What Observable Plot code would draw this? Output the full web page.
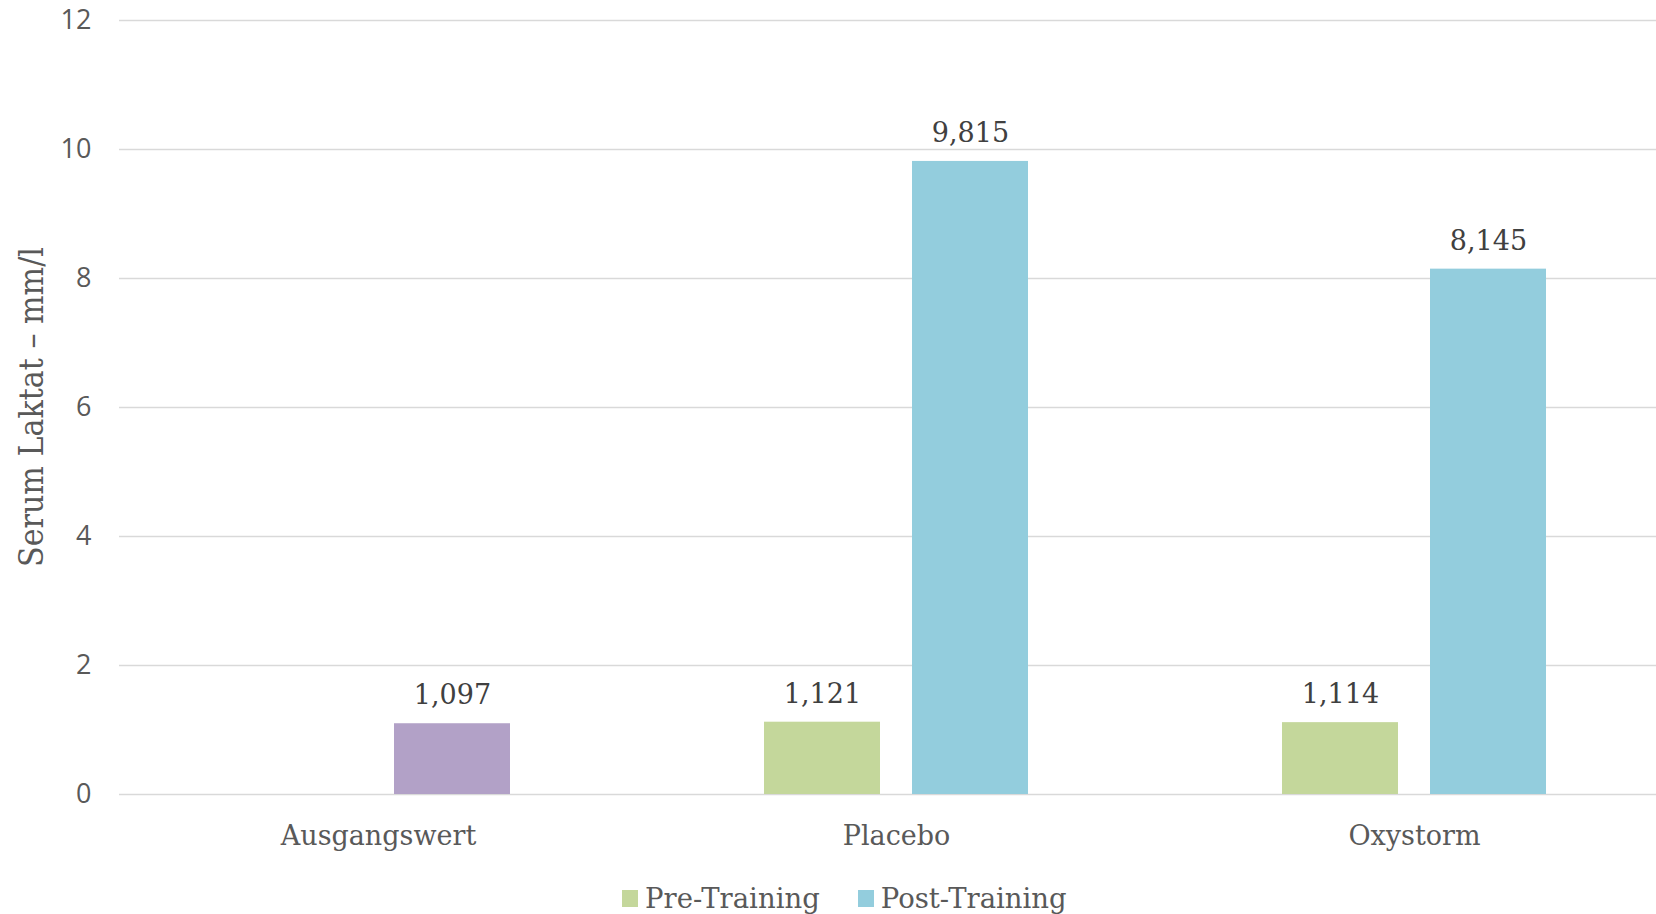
<!DOCTYPE html>
<html>
<head>
<meta charset="utf-8">
<script src="https://cdn.jsdelivr.net/npm/d3@7"></script>
<script src="https://cdn.jsdelivr.net/npm/@observablehq/plot@0.6"></script>
<style>
  html, body { margin: 0; padding: 0; background: #fff; overflow: hidden; }
  #wrap { width: 1656px; height: 914px; overflow: hidden; position: relative; }
  #chart svg { max-width: none !important; display: block; }
  #legend { position: absolute; left: 622px; top: 882px; display: flex; align-items: center;
            font-family: "DejaVu Serif", serif; font-size: 27.5px; color: #595959; white-space: nowrap; }
  .item { display: flex; align-items: center; margin-right: 38px; }
  .sw { width: 16px; height: 17px; margin-right: 7px; }
</style>
</head>
<body>
<div id="wrap"><div id="chart"></div><div id="legend"></div></div>
<script>
const categories = ["Ausgangswert", "Placebo", "Oxystorm"];
const series = ["Pre-Training", "Post-Training"];
const preTraining = [null, 1.121, 1.114];
const postTraining = [1.097, 9.815, 8.145];
const yTicks = [0, 2, 4, 6, 8, 10, 12];
const yLabel = "Serum Laktat – mm/l";

const seriesColors = ["#C4D79B", "#93CDDD"];
const baselineColor = "#B2A1C7";

const rows = [];
categories.forEach((c, i) => {
  if (preTraining[i] != null) rows.push({category: c, series: series[0], value: preTraining[i]});
  if (postTraining[i] != null) rows.push({category: c, series: series[1], value: postTraining[i]});
});
rows.forEach(r => {
  r.fill = r.category === categories[0] ? baselineColor : seriesColors[series.indexOf(r.series)];
});
const fmt = v => v.toFixed(3).replace(".", ",");

const chart = Plot.plot({
  width: 1673,
  height: 870,
  marginLeft: 119,
  marginRight: 0,
  marginTop: 20,
  marginBottom: 76,
  style: {maxWidth: "none"},
  fx: {domain: categories, padding: 0, label: null},
  x: {domain: series, paddingInner: 0.216, paddingOuter: 0.858, axis: null},
  y: {domain: [0, 12], label: null},
  marks: [
    Plot.gridY(yTicks, {stroke: "#D9D9D9", strokeOpacity: 1, strokeWidth: 1.6}),
    Plot.axisY(yTicks, {tickSize: 0, tickPadding: 28, fontSize: 27, fontFamily: "Open Sans", fill: "#595959", label: null, tickFormat: d => String(d)}),
    Plot.axisFx({anchor: "bottom", tickSize: 0, tickPadding: 31, fontSize: 27, fontFamily: "DejaVu Serif", fill: "#595959", label: null}),
    Plot.barY(rows, {fx: "category", x: "series", y: "value", fill: d => d.fill}),
    Plot.text(rows, {fx: "category", x: "series", y: "value", text: d => fmt(d.value), dy: -28,
      fontSize: 27, fontFamily: "DejaVu Serif", fill: "#404040", lineAnchor: "middle"}),
  ]
});
chart.style.maxWidth = "none";
d3.select("#chart").node().appendChild(chart);

// y axis title
const svg = d3.select(chart);
svg.append("text")
  .attr("transform", `translate(31, ${(20 + 794) / 2}) rotate(-90)`)
  .attr("text-anchor", "middle")
  .attr("dominant-baseline", "central")
  .attr("font-family", "DejaVu Serif Condensed, DejaVu Serif, serif")
  .attr("font-size", 33)
  .attr("fill", "#595959")
  .attr("textLength", 320)
  .attr("lengthAdjust", "spacingAndGlyphs")
  .text(yLabel);

const legend = d3.select("#legend");
series.forEach((s, i) => {
  const it = legend.append("div").attr("class", "item");
  it.append("div").attr("class", "sw").style("background", seriesColors[i]);
  it.append("span").text(s);
});
</script>
</body>
</html>
